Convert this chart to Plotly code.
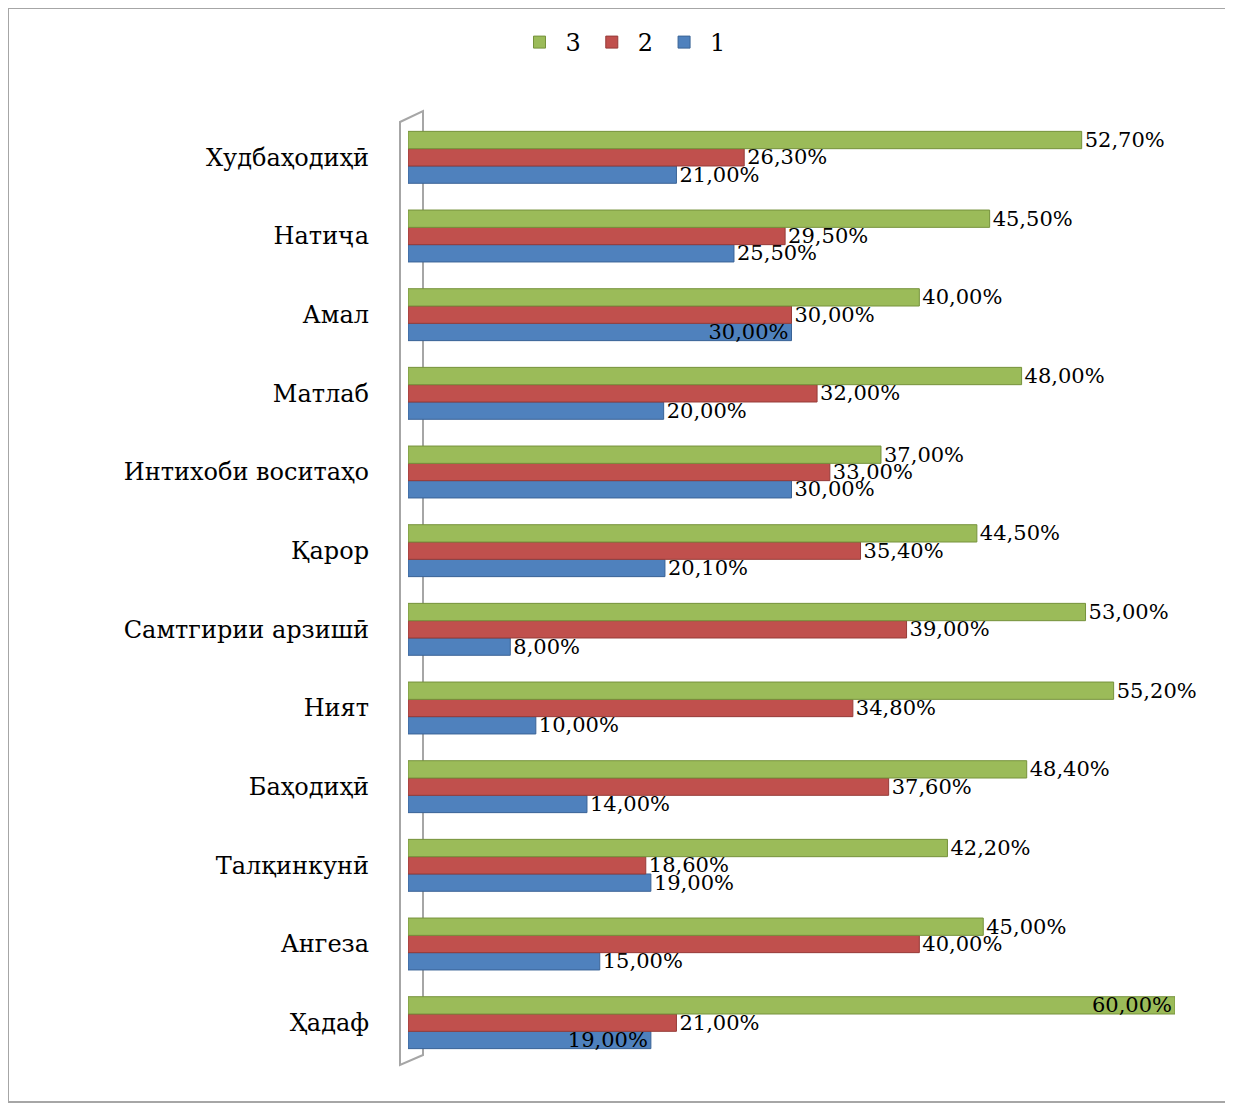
import plotly.graph_objects as go

categories = ["Худбаҳодиҳӣ", "Натиҷа", "Амал", "Матлаб", "Интихоби воситаҳо", "Қарор",
              "Самтгирии арзишӣ", "Ният", "Баҳодиҳӣ", "Талқинкунӣ", "Ангеза", "Ҳадаф"]
series_names = ["1", "2", "3"]
values_1 = [21.0, 25.5, 30.0, 20.0, 30.0, 20.1, 8.0, 10.0, 14.0, 19.0, 15.0, 19.0]
values_2 = [26.3, 29.5, 30.0, 32.0, 33.0, 35.4, 39.0, 34.8, 37.6, 18.6, 40.0, 21.0]
values_3 = [52.7, 45.5, 40.0, 48.0, 37.0, 44.5, 53.0, 55.2, 48.4, 42.2, 45.0, 60.0]
colors = ["#4F81BD", "#C0504D", "#9BBB59"]
edge_colors = ["#3A6396", "#963B38", "#76923C"]

# label placement per point (inside = pulled back over the bar end, as in the reference)
pos_1 = ["outside"] * 12
pos_1[2] = "inside"
pos_1[11] = "inside"
pos_2 = ["outside"] * 12
pos_3 = ["outside"] * 12
pos_3[11] = "inside"

OFF = 8  # page body margin
W, H = 1233 - OFF, 1104 - OFF
L, R, T, B = 408, 1175, 118, 1062  # plot area in page pixels

def px_x(p):
    return (p - L) / (R - L)

def px_y(p):
    return (B - p) / (B - T)

def fmt(v):
    return f"{v:.2f}".replace(".", ",") + "%"

FONT = "DejaVu Serif"
fig = go.Figure()
for name, vals, pos, c, ec in zip(series_names, [values_1, values_2, values_3],
                                  [pos_1, pos_2, pos_3], colors, edge_colors):
    fig.add_trace(go.Bar(
        y=categories, x=vals, name=name, orientation="h",
        marker=dict(color=c, line=dict(color=ec, width=1)),
        text=[fmt(v) for v in vals], textposition=pos, insidetextanchor="end",
        textfont=dict(family=FONT, size=21, color="#000000"),
        insidetextfont=dict(family=FONT, size=21, color="#000000"),
        outsidetextfont=dict(family=FONT, size=21, color="#000000"),
        constraintext="none", cliponaxis=False,
    ))

shapes = [
    # 3D back wall
    dict(type="path", xref="paper", yref="paper",
         path=f"M {px_x(400)} {px_y(1065)} L {px_x(400)} {px_y(122)} L {px_x(423)} {px_y(111)} "
              f"L {px_x(423)} {px_y(1055)} Z",
         line=dict(color="#A6A6A6", width=2), fillcolor="rgba(0,0,0,0)", layer="below"),
    # outer border
    dict(type="rect", xref="paper", yref="paper",
         x0=px_x(8), x1=px_x(1230), y0=px_y(1102), y1=px_y(8),
         line=dict(color="#A6A6A6", width=2), fillcolor="rgba(0,0,0,0)", layer="below"),
]

fig.update_layout(
    width=W, height=H,
    margin=dict(l=L - OFF, r=(W + OFF) - R, t=T - OFF, b=(H + OFF) - B, autoexpand=False),
    paper_bgcolor="white", plot_bgcolor="white",
    barmode="group", bargap=0.34, bargroupgap=0,
    showlegend=True,
    legend=dict(orientation="h", traceorder="reversed",
                x=px_x(622), xanchor="center", y=px_y(20), yanchor="top",
                font=dict(family=FONT, size=24, color="#000000"),
                itemwidth=42, bgcolor="rgba(0,0,0,0)"),
    xaxis=dict(range=[0, 60], visible=False, showgrid=False, zeroline=False),
    yaxis=dict(categoryorder="array", categoryarray=categories[::-1],
               showgrid=False, zeroline=False, showline=False, ticks="",
               ticklabelstandoff=38, automargin=False,
               tickfont=dict(family=FONT, size=24, color="#000000")),
    shapes=shapes,
)

fig.write_html("out.html")
